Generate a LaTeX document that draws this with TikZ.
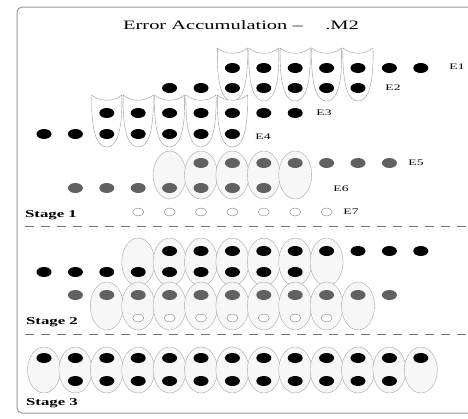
\documentclass[tikz,border=0pt]{standalone}
\usepackage{amssymb,amsmath}
\usepackage{fontspec}
\setmainfont{Liberation Serif}
\usetikzlibrary{shapes}
\tikzstyle{bdot}=[ellipse,fill=black,minimum width=15pt,minimum height=10pt,inner sep=0pt]
\tikzstyle{gdot}=[bdot,fill=black!62]
\tikzstyle{odot}=[ellipse,draw=black!50,fill=white,minimum width=11pt,minimum height=8pt,inner sep=0pt]
\tikzstyle{pair}=[ellipse,draw=black!35,fill=black!3,minimum width=33pt,minimum height=48pt,inner sep=0pt]
\tikzstyle{cupline}=[draw=black!40,fill=white]
\tikzstyle{elab}=[inner sep=0pt,font=\fontsize{8.5}{9}\selectfont]
\tikzstyle{stagelab}=[inner sep=0pt,font=\bfseries\fontsize{10.5}{11}\selectfont]
\tikzstyle{stageline}=[draw=black!55,thick,dash pattern=on 9pt off 7pt]
% text in this figure is drawn wide
\newcommand{\wide}[1]{\scalebox{1.6}[1]{#1}}
% x position of column #1
\newcommand{\colx}[1]{44+31.4*#1}
% cup around two dots: centre x, top y, bottom y
\newcommand{\errcup}[3]{%
  \pgfmathsetmacro{\cx}{#1}
  \draw[cupline] (\cx-15,#2) .. controls (\cx-7,#2+7) and (\cx+7,#2+7) .. (\cx+15,#2)
    .. controls (\cx+16,#3-10) and (\cx+8,#3) .. (\cx,#3)
    .. controls (\cx-8,#3) and (\cx-16,#3-10) .. (\cx-15,#2) -- cycle;}

\begin{document}
\begin{tikzpicture}[x=1pt,y=-1pt]
      \useasboundingbox (0,0) rectangle (468,418);
      \draw[draw=black!40,line width=1pt,rounded corners=5pt] (17,7) rectangle (474,413);
      \node (title) at (241,25) {\wide{\fontsize{12.8}{14}\selectfont Error Accumulation --\hspace{1.1em}.M2}};

      % stage 1
      \foreach \i in {6,...,10} {\errcup{\colx{\i}}{48}{101}}
      \foreach \i in {2,...,6} {\errcup{\colx{\i}}{95}{147}}
      \foreach \i in {6,...,12} \node[bdot] (e1-\i) at ({\colx{\i}},68) {};
      \foreach \i in {4,...,10} \node[bdot] (e2-\i) at ({\colx{\i}},88) {};
      \foreach \i in {2,...,8} \node[bdot] (e3-\i) at ({\colx{\i}},113) {};
      \foreach \i in {0,...,6} \node[bdot] (e4-\i) at ({\colx{\i}},134) {};
      \foreach \i in {4,...,8} \node[pair] (p1-\i) at ({\colx{\i}},175) {};
      \foreach \i in {5,...,11} \node[gdot] (e5-\i) at ({\colx{\i}},163) {};
      \foreach \i in {1,...,7} \node[gdot] (e6-\i) at ({\colx{\i}},188) {};
      \foreach \i in {3,...,9} \node[odot] (e7-\i) at ({\colx{\i}},212) {};
      \node[elab] (l1) at (457,67) {\wide{E1}};
      \node[elab] (l2) at (393,88) {\wide{E2}};
      \node[elab] (l3) at (324,113) {\wide{E3}};
      \node[elab] (l4) at (263,137) {\wide{E4}};
      \node[elab] (l5) at (416,163) {\wide{E5}};
      \node[elab] (l6) at (341,189) {\wide{E6}};
      \node[elab] (l7) at (351,212) {\wide{E7}};
      \node[stagelab] (st1) at (51,215) {\wide{Stage 1}};
      \coordinate (d1a) at (25,226);
      \coordinate (d1b) at (470,226);
      \draw[stageline] (d1a) -- (d1b);

      % stage 2
      \foreach \i in {3,...,9} \node[pair] (p2-\i) at ({\colx{\i}},262) {};
      \foreach \i in {2,...,10} \node[pair] (p3-\i) at ({\colx{\i}},306) {};
      \foreach \i in {4,...,12} \node[bdot] (a2-\i) at ({\colx{\i}},251) {};
      \foreach \i in {0,...,8} \node[bdot] (b2-\i) at ({\colx{\i}},272) {};
      \foreach \i in {1,...,11} \node[gdot] (c2-\i) at ({\colx{\i}},295) {};
      \foreach \i in {3,...,9} \node[odot] (d2-\i) at ({\colx{\i}},318) {};
      \node[stagelab] (st2) at (52,322) {\wide{Stage 2}};
      \coordinate (d2a) at (25,334);
      \coordinate (d2b) at (470,334);
      \draw[stageline] (d2a) -- (d2b);

      % stage 3
      \foreach \i in {0,...,12} \node[pair,minimum height=46pt] (p4-\i) at ({\colx{\i}},370) {};
      \foreach \i in {0,...,12} \node[bdot] (a3-\i) at ({\colx{\i}},358) {};
      \foreach \i in {1,...,11} \node[bdot] (b3-\i) at ({\colx{\i}},381) {};
      \node[stagelab] (st3) at (52,403) {\wide{Stage 3}};
\end{tikzpicture}
\end{document}
